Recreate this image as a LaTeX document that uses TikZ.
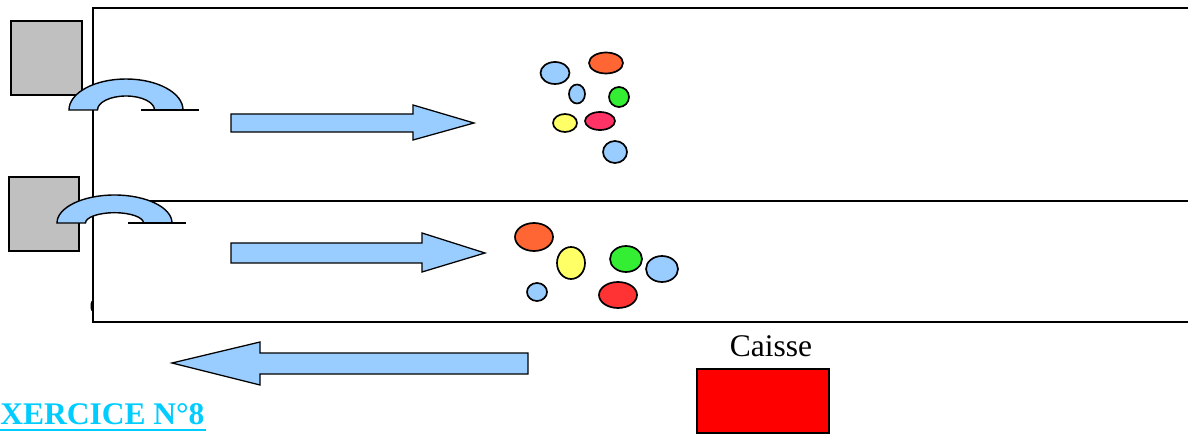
\documentclass[tikz,border=0pt]{standalone}
\usepackage{fontspec}
\setmainfont{Liberation Serif}
\definecolor{bleu}{RGB}{153,204,255}
\definecolor{orange2}{RGB}{255,102,51}
\definecolor{vert}{RGB}{51,238,51}
\definecolor{jaune}{RGB}{255,255,102}
\definecolor{rose}{RGB}{255,51,102}
\definecolor{rouge}{RGB}{255,51,51}
\definecolor{gris}{RGB}{192,192,192}
\definecolor{titre}{RGB}{0,204,255}
\tikzset{
  piece/.style={draw,line width=1pt,fill=bleu},
  bille/.style={draw,line width=1.2pt},
  fleche/.style={draw,line width=0.9pt,fill=bleu,line join=miter}
}
\begin{document}
\begin{tikzpicture}[x=0.025cm,y=0.025cm]
\useasboundingbox (0,0) rectangle (1188,434);
% tapis
\draw[line width=1pt] (1188,426) -- (93,426) -- (93,112) -- (1188,112);
\draw[line width=1.4pt] (93,233) -- (1188,233);
\fill (93,134) arc[start angle=90,end angle=270,x radius=2.5,y radius=6];

% distributeurs
\draw[fill=gris,line width=0.8pt] (11,413) rectangle (82,339);
\draw[fill=gris,line width=0.8pt] (9,257) rectangle (79,183);

\draw[piece] (69,324) arc[start angle=180,end angle=0,x radius=57,y radius=31]
  -- (154.5,324) arc[start angle=0,end angle=180,x radius=28.5,y radius=14] -- cycle;
\draw[line width=1pt] (141,324) -- (199,324);
\draw[piece] (57,211) arc[start angle=180,end angle=0,x radius=57.5,y radius=28]
  -- (143.5,211) arc[start angle=0,end angle=180,x radius=29,y radius=10.3] -- cycle;
\draw[line width=1pt] (128,211) -- (186,211);

% fleches
\draw[fleche] (231,302) -- (413,302) -- (413,294) -- (474,311) -- (413,329) -- (413,320) -- (231,320) -- cycle;
\draw[fleche] (231,171) -- (422,171) -- (422,162) -- (485,181) -- (422,201) -- (422,191) -- (231,191) -- cycle;
\draw[fleche] (528,60) -- (260,60) -- (260,49) -- (172,71) -- (260,92) -- (260,81) -- (528,81) -- cycle;

% billes
\foreach \x/\y/\rx/\ry/\c in {555/361/14.5/11/bleu, 606/371/17/10.5/orange2, 577/340/8/9.5/bleu,
  619/337/10/10/vert, 565/311/12/9/jaune, 600/313/15/9/rose, 615/282/12/11/bleu,
  534/197/19/14/orange2, 571/171/14/16/jaune, 626/175/16/13/vert, 662/165/16/13/bleu,
  537/142/10/9/bleu, 618/139/19/13/rouge}
  \draw[bille,fill=\c] (\x,\y) ellipse[x radius=\rx,y radius=\ry];

% caisse
\draw[fill=red,line width=0.8pt] (697,65) rectangle (829,1);
\node[anchor=base,font=\fontsize{22.4}{26}\selectfont] (caisse) at (771,78) {Caisse};

\node[anchor=base west,inner sep=0pt,text=titre,font=\fontsize{22.4}{26}\selectfont\bfseries] (titre) at (0,10) {XERCICE N°8};
\draw[titre,line width=1.5pt] (0,4) -- (206,4);
\end{tikzpicture}
\end{document}
